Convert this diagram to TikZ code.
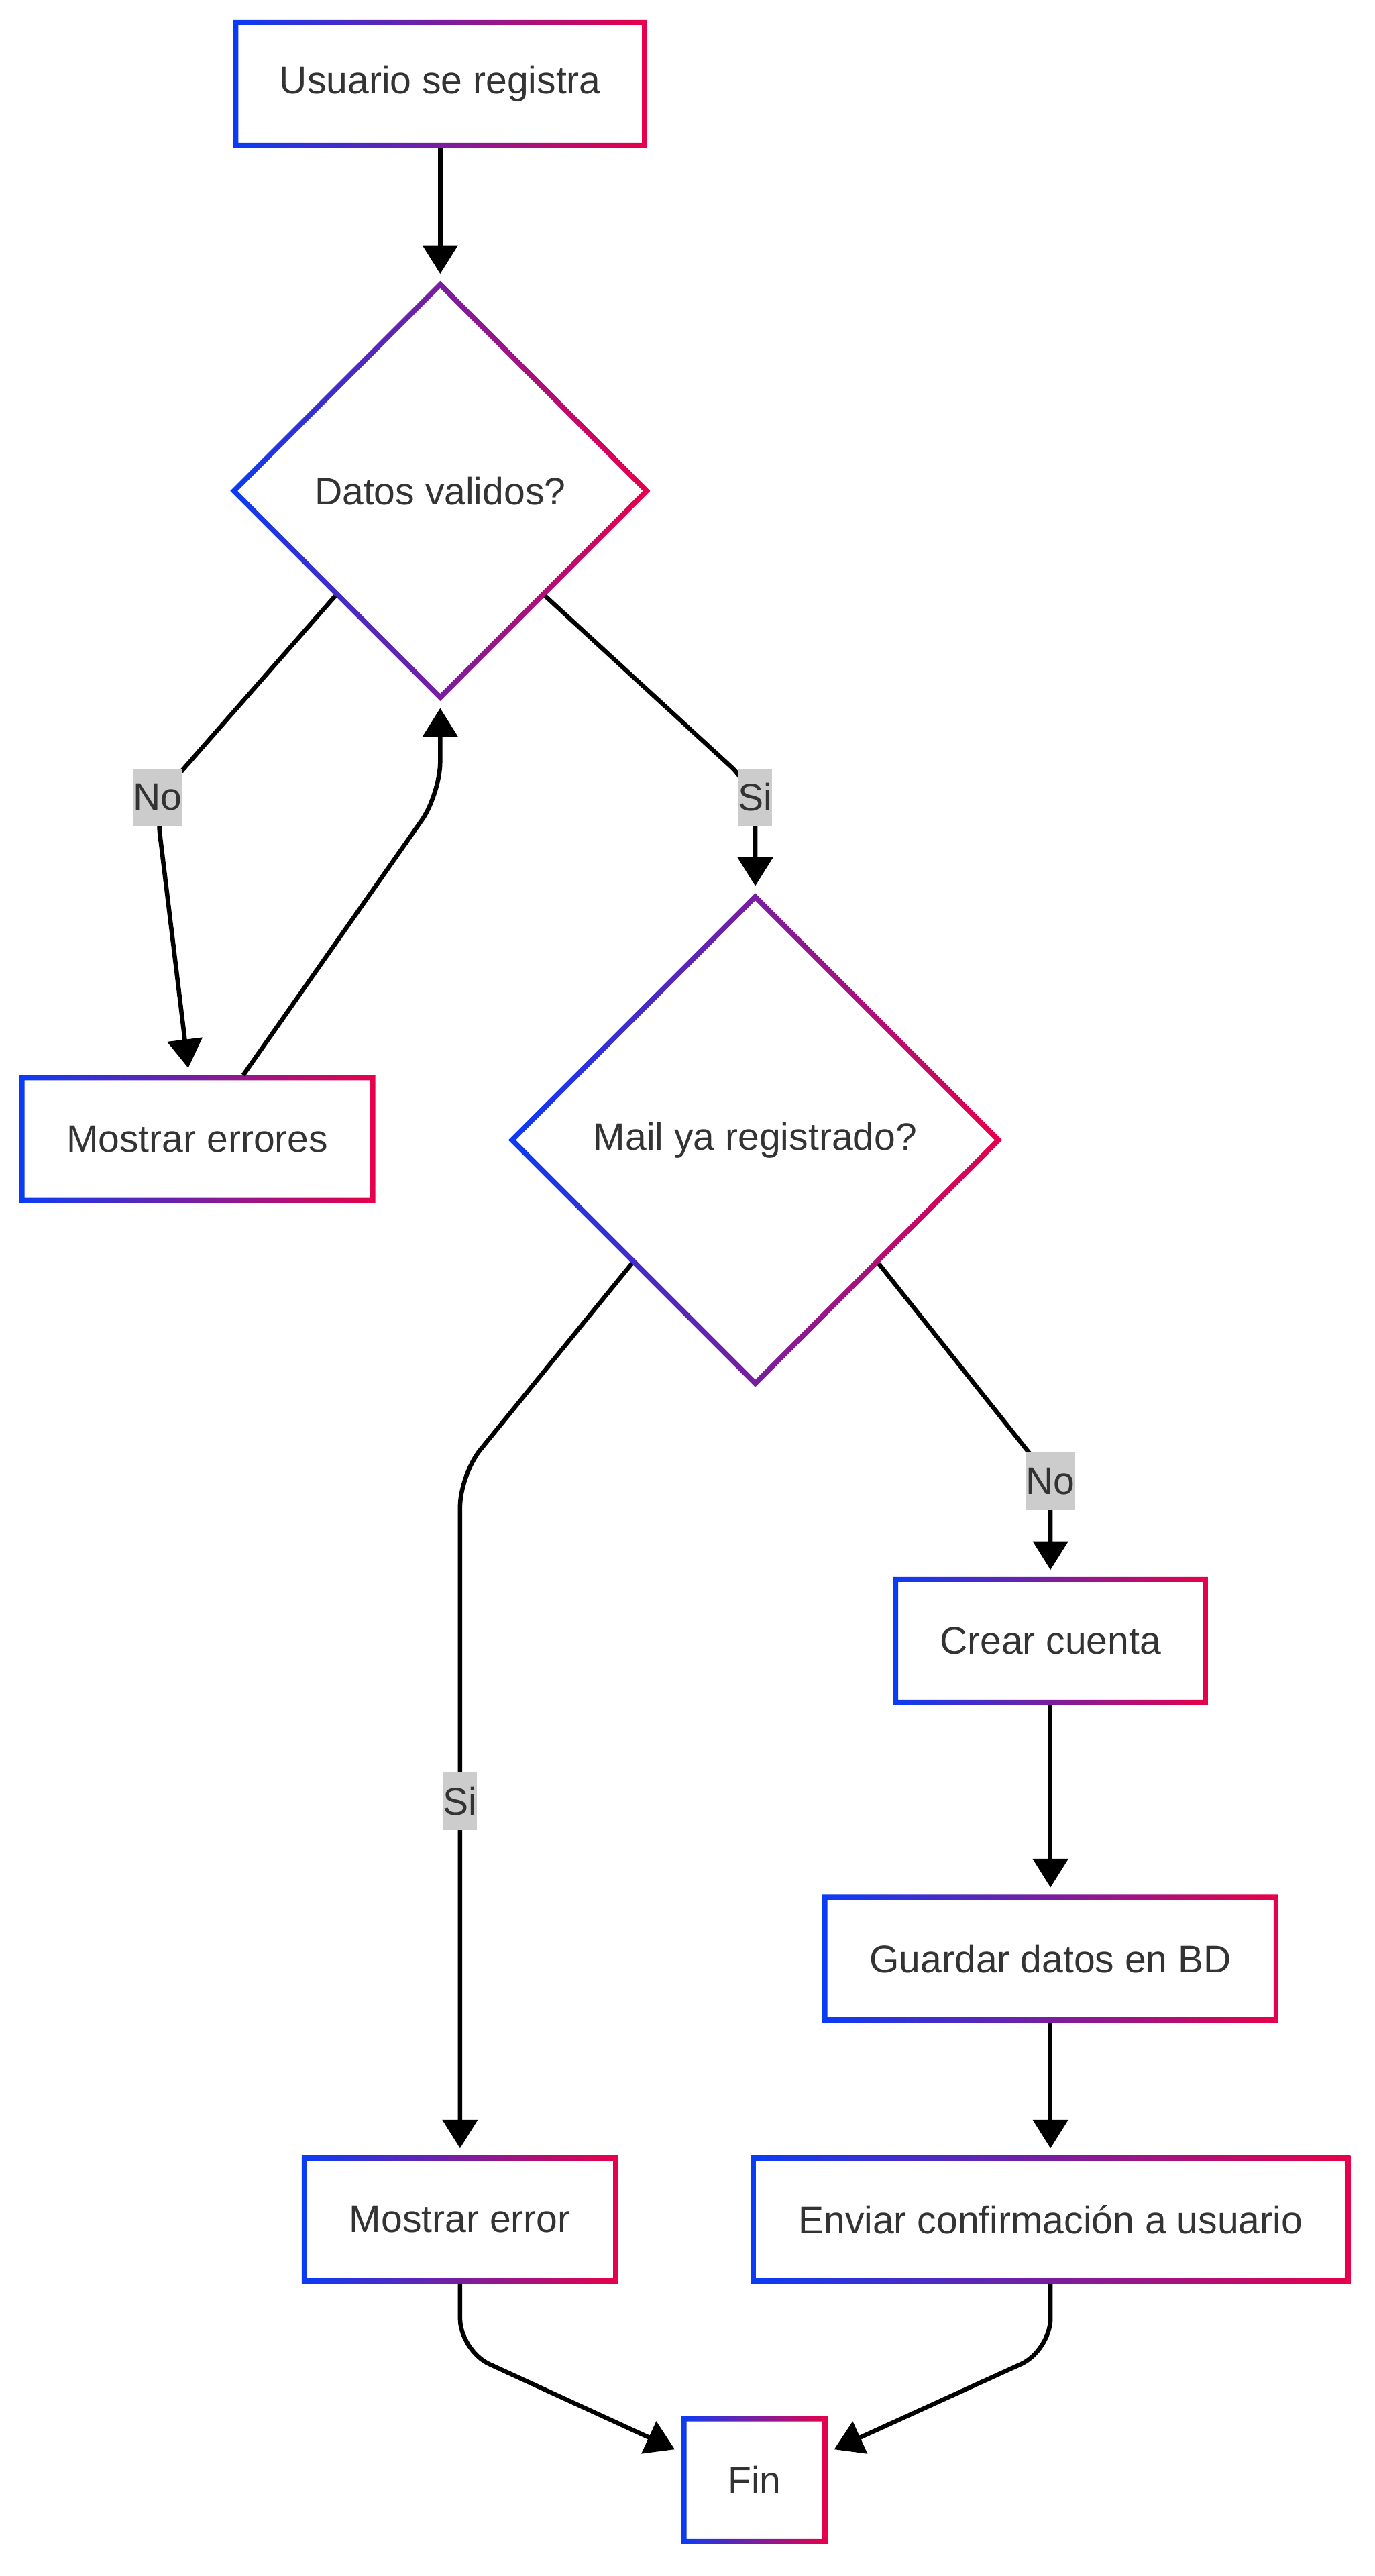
\documentclass[tikz,border=0pt]{standalone}
\usepackage{fontspec}
\setmainfont{Liberation Sans}
\usetikzlibrary{arrows.meta,calc,shapes.geometric}
\definecolor{gblue}{HTML}{0A3CF5}
\definecolor{gred}{HTML}{E8004A}
\definecolor{txt}{HTML}{333333}
\definecolor{lblbg}{HTML}{CCCCCC}
\tikzset{
	box/.style={rectangle, fill=white, outer sep=0pt, inner sep=0pt, minimum height=1.95cm, text=txt, font=\fontsize{16.6}{20}\selectfont},
	choice/.style={diamond, fill=white, outer sep=0pt, inner sep=0pt, text=txt, font=\fontsize{16.6}{20}\selectfont},
	grad/.style={left color=gblue, right color=gred, even odd rule},
	flow/.style={line width=1.9pt, -{Triangle[length=12.4pt,width=15pt]}, shorten >=3.1pt, rounded corners=14pt},
	lbl/.style={fill=lblbg, text=txt, inner xsep=0pt, inner ysep=0pt, minimum height=24.9pt, font=\fontsize{16.6}{20}\selectfont}
}
\begin{document}
\begin{tikzpicture}[x=0.025cm, y=-0.025cm]
			%%%%% START %%%%%
			
			\useasboundingbox[fill=white] (0, 0) rectangle (838, 1570.4);
			
			\node[box, minimum width=6.31cm] (usuario) at (268.4, 51.2) {Usuario se registra};
			\node[choice, minimum width=6.4cm, minimum height=6.4cm] (datos) at (268.4, 299.3) {Datos validos?};
			\node[box, minimum width=5.425cm] (errs) at (120.3, 694.4) {Mostrar errores};
			\node[choice, minimum width=7.525cm, minimum height=7.525cm] (mail) at (460.5, 695) {Mail ya registrado?};
			\node[box, minimum width=4.8cm] (crear) at (640.5, 1000.4) {Crear cuenta};
			\node[box, minimum width=6.96cm] (guardar) at (640.5, 1194) {Guardar datos en BD};
			\node[box, minimum width=4.825cm] (merror) at (280.5, 1353) {Mostrar error};
			\node[box, minimum width=9.14cm] (enviar) at (640.5, 1353) {Enviar confirmación a usuario};
			\node[box, minimum width=2.23cm] (fin) at (460, 1512) {Fin};
			
			\foreach \n in {usuario, errs, crear, guardar, merror, enviar, fin}
				\shade[grad] (\n.north west) rectangle (\n.south east)
					([shift={(3.2,3.2)}]\n.north west) rectangle ([shift={(-3.2,-3.2)}]\n.south east);
			
			\foreach \n/\k in {datos/0.965, mail/0.970}
				\shade[grad] (\n.north) -- (\n.east) -- (\n.south) -- (\n.west) -- cycle
					($(\n.center)!\k!(\n.north)$) -- ($(\n.center)!\k!(\n.east)$) -- ($(\n.center)!\k!(\n.south)$) -- ($(\n.center)!\k!(\n.west)$) -- cycle;
			
			\coordinate (kno) at (95, 488);
			\coordinate (kback) at (268.4, 484);
			\coordinate (ksi) at (460.5, 481);
			\coordinate (kmsi) at (280.5, 899);
			\coordinate (kmno) at (640.5, 902);
			\coordinate (kl) at (280.5, 1433);
			\coordinate (kr) at (640.5, 1433);
			
			\draw[flow] (usuario.south) -- (datos.north);
			\draw[flow] (datos.south west) -- (kno) -- ([xshift=-0.125cm]errs.north);
			\draw[flow] ([xshift=0.7cm]errs.north) -- (kback) -- (datos.south);
			\draw[flow] (datos.south east) -- (ksi) -- (mail.north);
			\draw[flow] (mail.south west) -- (kmsi) -- (merror.north);
			\draw[flow] (mail.south east) -- (kmno) -- (crear.north);
			\draw[flow] (crear.south) -- (guardar.north);
			\draw[flow] (guardar.south) -- (enviar.north);
			\draw[flow] (merror.south) -- (kl) -- ([yshift=0.425cm]fin.west);
			\draw[flow] (enviar.south) -- (kr) -- ([yshift=0.425cm]fin.east);
			
			\node[lbl] (lno) at (96, 486) {No};
			\node[lbl] (lsi) at (460.5, 486) {Si};
			\node[lbl] (lmno) at (640.5, 903) {No};
			\node[lbl] (lmsi) at (280.5, 1098) {Si};
			
			%%%%% END %%%%%
\end{tikzpicture}
\end{document}
